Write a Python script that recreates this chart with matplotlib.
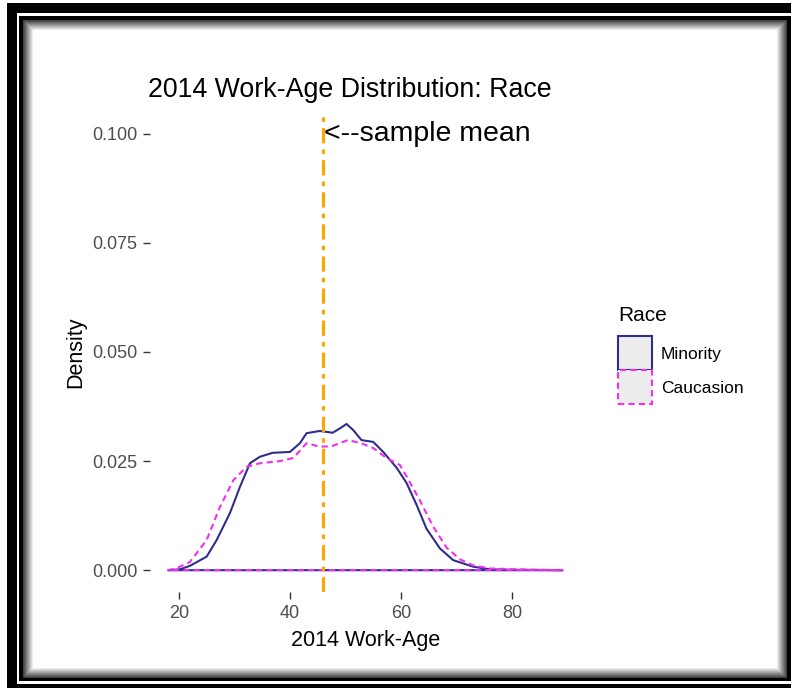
"""2014 work-age density by race, with the sample mean marked."""

import matplotlib
matplotlib.use("Agg")
import matplotlib.pyplot as plt
from matplotlib.patches import Patch, Rectangle

plt.rcParams["font.family"] = ["Liberation Sans", "DejaVu Sans"]

# values
MINORITY_AGE = [18.0, 20.2, 22.0, 25.0, 26.8, 29.2, 31.0, 32.8, 34.6, 36.9,
                40.0, 41.8, 43.0, 45.4, 47.7, 49.0, 50.2, 51.4, 52.9, 55.0,
                56.8, 59.2, 61.0, 62.8, 64.6, 67.0, 69.4, 73.0, 76.0, 80.0, 89.2]
MINORITY_DENS = [0.0, 0.0002, 0.0010, 0.0031, 0.0069, 0.0131, 0.0191, 0.0245,
                 0.0260, 0.0269, 0.0271, 0.0291, 0.0314, 0.0319, 0.0315, 0.0325,
                 0.0335, 0.0321, 0.0298, 0.0294, 0.0271, 0.0235, 0.0200, 0.0150,
                 0.0095, 0.0050, 0.0023, 0.0008, 0.0002, 0.0001, 0.0]

CAUC_AGE = [18.0, 19.5, 22.0, 25.0, 27.4, 29.8, 32.2, 34.6, 38.2, 40.6, 43.0,
            45.4, 47.5, 50.4, 52.6, 55.0, 57.4, 59.8, 61.0, 63.4, 65.8, 68.2,
            70.6, 73.0, 76.0, 80.8, 89.2]
CAUC_DENS = [0.0, 0.0004, 0.0019, 0.0069, 0.0145, 0.0206, 0.0237, 0.0245,
             0.0250, 0.0257, 0.0291, 0.0283, 0.0284, 0.0298, 0.0292, 0.0280,
             0.0257, 0.0241, 0.0215, 0.0160, 0.0100, 0.0052, 0.0025, 0.0011,
             0.0004, 0.0002, 0.0]

SAMPLE_MEAN = 45.9
GROUPS = ["Minority", "Caucasion"]
Y_TICKS = [0.0, 0.025, 0.05, 0.075, 0.1]
X_TICKS = [20, 40, 60, 80]

NAVY = "#2e2e8c"
MAGENTA = "#f030f0"
ORANGE = "#ffa500"
TXT = "#4d4d4d"

W, H = 794, 691
fig = plt.figure(figsize=(W / 100, H / 100), dpi=100)


def px_rect(x0, y0, x1, y1, z=-5, **kw):
    """Rectangle given in top-origin pixel coords, drawn behind the axes."""
    r = Rectangle((x0 / W, 1 - y1 / H), (x1 - x0) / W, (y1 - y0) / H,
                  transform=fig.transFigure, zorder=z, **kw)
    fig.patches.append(r)
    return r


# picture frame: double black border with a soft inner shadow
px_rect(7, 3, 791, 688, facecolor="black", edgecolor="none")
px_rect(17, 13, 791, 684, facecolor="white", edgecolor="none")
px_rect(19, 16, 791, 681, facecolor="black", edgecolor="none")
for i in range(11):
    g = min(1.0, 0.25 + 0.075 * i)
    px_rect(23 + i, 20 + i, 787 - i, 678 - i, z=-4 + i * 0.01,
            facecolor=(g, g, g), edgecolor="none")
px_rect(34, 31, 776, 667, z=-3, facecolor="white", edgecolor="none")

ax = fig.add_axes([150 / W, 1 - 592 / H, 432 / W, 480 / H])
ax.set_facecolor("none")

ax.fill(MINORITY_AGE, MINORITY_DENS, facecolor="none", edgecolor=NAVY,
        lw=1.5, ls="-", zorder=2)
ax.fill(CAUC_AGE, CAUC_DENS, facecolor="none", edgecolor=MAGENTA,
        lw=1.5, ls=(0, (3, 2)), zorder=3)

ax.axvline(SAMPLE_MEAN, color=ORANGE, lw=2.2, ls=(0, (5, 2, 1.5, 2)), zorder=4)
ax.text(SAMPLE_MEAN + 0.2, 0.1, "<--sample mean", fontsize=20.5, color="black",
        ha="left", va="center")

ax.set_xlim(14.8, 92.6)
ax.set_ylim(-0.005, 0.105)
ax.set_xticks(X_TICKS)
ax.set_xticklabels([str(t) for t in X_TICKS])
ax.set_yticks(Y_TICKS)
ax.set_yticklabels([f"{t:.3f}" for t in Y_TICKS])
ax.tick_params(length=5, width=1, color="#333333", labelcolor=TXT,
               labelsize=13, pad=4)
for s in ax.spines.values():
    s.set_visible(False)

ax.set_xlabel("2014 Work-Age", fontsize=15.5, labelpad=6)
ax.set_ylabel("Density", fontsize=15.5, labelpad=4)
fig.text(148 / W, 1 - 97 / H, "2014 Work-Age Distribution: Race",
         fontsize=19.3, ha="left", va="baseline")

handles = [
    Patch(facecolor="#ececec", edgecolor=NAVY, lw=1.5, ls="-"),
    Patch(facecolor="#ececec", edgecolor=MAGENTA, lw=1.5, ls=(0, (3, 2))),
]
leg = fig.legend(handles, GROUPS, loc="upper left",
                 bbox_to_anchor=(606 / W, 1 - 294 / H), frameon=False,
                 fontsize=12.5, title="Race", title_fontsize=15,
                 handlelength=1.95, handleheight=2.64, labelspacing=0,
                 handletextpad=0.5, borderpad=0.2)
leg._legend_box.align = "left"
leg._legend_box.sep = 8  # gap between the title and the keys, in points

fig.savefig("out.png", dpi=100)
